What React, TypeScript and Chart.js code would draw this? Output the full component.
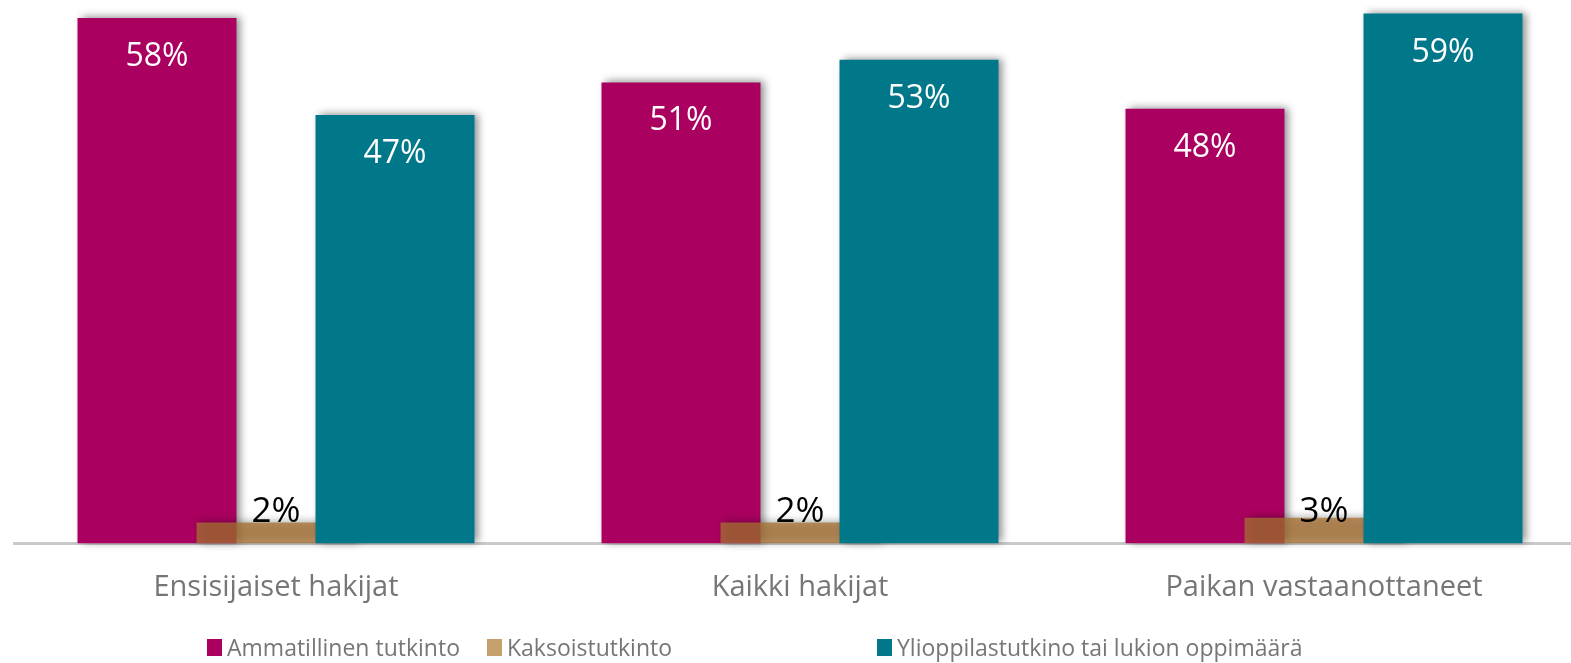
import React, { useEffect, useRef } from "react";
import { Chart, registerables } from "chart.js";

Chart.register(...registerables);

// ---- data ----
const categories = ["Ensisijaiset hakijat", "Kaikki hakijat", "Paikan vastaanottaneet"];
const seriesNames = [
  "Ammatillinen tutkinto",
  "Kaksoistutkinto",
  "Ylioppilastutkino tai lukion oppimäärä",
];
const ammatillinen = [58.0, 50.9, 48.0];
const kaksoistutkinto = [2.3, 2.3, 2.8];
const ylioppilas = [47.3, 53.4, 58.5];

// ---- styles ----
const MAGENTA = "#AA005F";
const GOLD_LEGEND = "#C4A06C";
const GOLD_FILL = "rgba(168,112,50,0.75)";
const TEAL = "#00788A";
const TEXT_GRAY = "#767676";
const FONT = "'Open Sans', 'Noto Sans', sans-serif";

const LEGEND_BOX_X = [207, 487, 877];
const LEGEND_COLORS = [MAGENTA, GOLD_LEGEND, TEAL];

const drawPlugin = {
  id: "customDraw",
  beforeDatasetsDraw(chart: any) {
    const ctx = chart.ctx;
    const xs = chart.scales.x;
    const ys = chart.scales.y;
    // draw datasets in order: magenta, gold, teal (teal on top)
    for (let d = 0; d < chart.data.datasets.length; d++) {
      const meta = chart.getDatasetMeta(d);
      ctx.save();
      ctx.shadowColor = "rgba(0,0,0,0.45)";
      ctx.shadowBlur = 8;
      ctx.shadowOffsetX = 4;
      ctx.shadowOffsetY = -1;
      meta.controller.draw();
      ctx.restore();
    }
    // value labels
    ctx.save();
    ctx.textAlign = "center";
    ctx.textBaseline = "alphabetic";
    [0, 2].forEach((d) => {
      const meta = chart.getDatasetMeta(d);
      meta.data.forEach((bar: any, i: number) => {
        const v = chart.data.datasets[d].data[i] as number;
        ctx.fillStyle = "#ffffff";
        ctx.font = `32px ${FONT}`;
        ctx.fillText(Math.round(v) + "%", bar.x, bar.y + 48);
      });
    });
    const gold = chart.data.datasets[1].data as number[];
    gold.forEach((v, i) => {
      ctx.fillStyle = "#000000";
      ctx.font = `35px ${FONT}`;
      ctx.fillText(Math.round(v) + "%", xs.getPixelForValue(i), ys.getPixelForValue(0) - 21);
    });
    ctx.restore();
    return false;
  },
  afterDraw(chart: any) {
    const ctx = chart.ctx;
    ctx.save();
    ctx.textAlign = "left";
    ctx.textBaseline = "alphabetic";
    ctx.font = `23px ${FONT}`;
    seriesNames.forEach((name, i) => {
      const bx = LEGEND_BOX_X[i];
      ctx.fillStyle = LEGEND_COLORS[i];
      ctx.fillRect(bx, 639, 15, 17);
      ctx.fillStyle = TEXT_GRAY;
      ctx.fillText(name, bx + 20, 656);
    });
    ctx.restore();
  },
};

export default function App() {
  const canvasRef = useRef<HTMLCanvasElement | null>(null);

  useEffect(() => {
    document.body.style.margin = "0";
    document.body.style.overflow = "hidden";
    const canvas = canvasRef.current;
    if (!canvas) return;
    const chart = new Chart(canvas, {
      type: "bar",
      data: {
        labels: categories,
        datasets: [
          {
            label: seriesNames[0],
            data: ammatillinen,
            backgroundColor: MAGENTA,
            categoryPercentage: 0.9084,
            barPercentage: 0.668,
          },
          {
            label: seriesNames[1],
            data: kaksoistutkinto,
            backgroundColor: GOLD_FILL,
            grouped: false,
            categoryPercentage: 1,
            barPercentage: 0.3034,
          } as any,
          {
            label: seriesNames[2],
            data: ylioppilas,
            backgroundColor: TEAL,
            categoryPercentage: 0.9084,
            barPercentage: 0.668,
          },
        ],
      },
      options: {
        animation: false,
        responsive: false,
        devicePixelRatio: 1,
        layout: { padding: { left: 14, right: 14, top: 0, bottom: 31 } },
        plugins: {
          legend: { display: false },
          tooltip: { enabled: false },
        },
        scales: {
          x: {
            grid: { display: false, drawTicks: false },
            border: { display: true, color: "#c9c9c9", width: 3 },
            ticks: {
              color: TEXT_GRAY,
              font: { family: FONT, size: 29 },
              padding: 27,
              maxRotation: 0,
            },
          },
          y: {
            display: false,
            min: 0,
            max: 60,
          },
        },
      },
      plugins: [drawPlugin],
    });
    return () => chart.destroy();
  }, []);

  return (
    <div
      style={{
        position: "fixed",
        left: 0,
        top: 0,
        width: 1571,
        height: 663,
        overflow: "hidden",
        background: "#ffffff",
      }}
    >
      <canvas ref={canvasRef} width={1600} height={663} style={{ display: "block" }} />
    </div>
  );
}
